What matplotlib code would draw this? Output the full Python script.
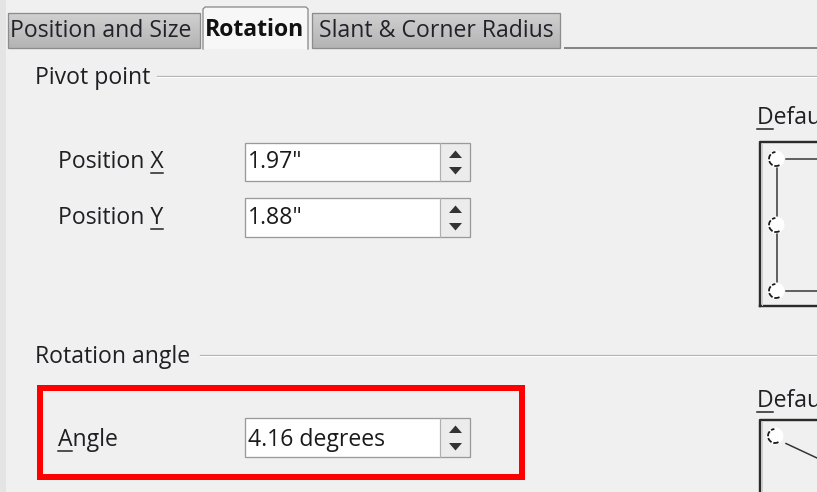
import matplotlib
matplotlib.use("Agg")
import matplotlib.pyplot as plt
from matplotlib.patches import Rectangle, Polygon, Circle, Arc
from matplotlib.colors import LinearSegmentedColormap
import numpy as np

plt.rcParams['font.family'] = ['Open Sans', 'DejaVu Sans']

# ---- content ----
tab_labels = ["Position and Size", "Rotation", "Slant & Corner Radius"]
active_tab = 1
group_titles = ["Pivot point", "Rotation angle"]
field_labels = ["Position X", "Position Y", "Angle"]
field_mnemonic = [9, 9, 0]
field_values = ['1.97"', '1.88"', '4.16 degrees']
side_title = "Default settings"

W, H = 817, 492
PX = 72 / 100.0
FS = 23 * PX

fig = plt.figure(figsize=(W / 100, H / 100), dpi=100)
fig.patch.set_facecolor('#f0f0f0')
ax = fig.add_axes([0, 0, 1, 1])
ax.set_facecolor('#f0f0f0')
ax.axis('off')
ax.set_xlim(0, W)
ax.set_ylim(H, 0)

TXT = '#1f1f24'

def lw(px):
    return px * PX

# left strip
ax.add_patch(Rectangle((0, 0), 6, H, facecolor='#e4e4e4', edgecolor='none', zorder=1))

# ---- tabs ----
tab_geo = [(8, 200, 13), (203, 308, 7), (312, 560, 13)]
tab_text_x = [101, 255, 436]
tab_cmap = LinearSegmentedColormap.from_list('t', ['#d0d0d0', '#b4b4b4'])
grad = np.linspace(0, 1, 64).reshape(-1, 1)
for i, (lab, (x0, x1, top)) in enumerate(zip(tab_labels, tab_geo)):
    if i == active_tab:
        ax.add_patch(Rectangle((x0, top), x1 - x0, 49 - top, facecolor='#f7f7f7',
                               edgecolor='none', zorder=2))
        ax.plot([x0, x0, x0 + 2, x1 - 2, x1, x1], [49, top + 2, top, top, top + 2, 49],
                color='#8a8a8a', lw=lw(1.3), zorder=3, solid_joinstyle='round')
        ax.text(tab_text_x[i], 36, lab, fontsize=FS, fontweight='bold', color='#111111',
                ha='center', va='baseline', zorder=4)
    else:
        ax.imshow(grad, cmap=tab_cmap, extent=(x0, x1, 48, top), origin='upper',
                  aspect='auto', zorder=2, interpolation='bilinear')
        ax.add_patch(Rectangle((x0, top), x1 - x0, 48 - top, facecolor='none',
                               edgecolor='#8c8c8c', lw=lw(1.3), zorder=3))
        ax.text(tab_text_x[i], 37, lab, fontsize=FS, color='#22222a',
                ha='center', va='baseline', zorder=4)
ax.plot([565, W], [47.5, 47.5], color='#858585', lw=lw(2), zorder=3)

# ---- group titles with etched lines ----
group_y = [84, 363]
group_line = [(157, 75.5), (200, 354.5)]
for t, yb, (lx, ly) in zip(group_titles, group_y, group_line):
    ax.text(35, yb, t, fontsize=FS, color=TXT, ha='left', va='baseline', zorder=4)
    ax.plot([lx, W], [ly, ly], color='#b4b4b4', lw=lw(1.2), zorder=3)
    ax.plot([lx, W], [ly + 1.2, ly + 1.2], color='#ffffff', lw=lw(1), zorder=3)

# ---- fields ----
fig.canvas.draw()
renderer = fig.canvas.get_renderer()
inv = ax.transData.inverted()

def underline(x, yb, text, idx, color=TXT):
    pre = ax.text(x, yb, text[:idx], fontsize=FS, ha='left', va='baseline')
    upto = ax.text(x, yb, text[:idx + 1], fontsize=FS, ha='left', va='baseline')
    if idx > 0:
        e0 = pre.get_window_extent(renderer)
        xs = inv.transform((e0.x1, 0))[0]
    else:
        xs = x
    e1 = upto.get_window_extent(renderer)
    xe = inv.transform((e1.x1, 0))[0]
    pre.remove(); upto.remove()
    ax.plot([xs + 0.5, xe - 0.5], [yb + 4.5, yb + 4.5], color=color, lw=lw(1.5), zorder=4)

field_label_y = [168, 224, 446]
box_geo = [(143, 181), (198, 237), (418, 457)]
for lab, mi, val, yb, (y0, y1) in zip(field_labels, field_mnemonic, field_values,
                                       field_label_y, box_geo):
    lx = 58
    ax.text(lx, yb, lab, fontsize=FS, color=TXT, ha='left', va='baseline', zorder=4)
    underline(lx, yb, lab, mi)
    bx0, bx1, sep = 245, 470, 440
    ax.add_patch(Rectangle((bx0, y0), sep - bx0, y1 - y0, facecolor='white',
                           edgecolor='none', zorder=2))
    ax.add_patch(Rectangle((sep, y0), bx1 - sep, y1 - y0, facecolor='#ececec',
                           edgecolor='none', zorder=2))
    ax.add_patch(Rectangle((bx0, y0), bx1 - bx0, y1 - y0, facecolor='none',
                           edgecolor='#9a9a9a', lw=lw(1.3), zorder=3))
    ax.plot([sep, sep], [y0, y1], color='#b0b0b0', lw=lw(1.2), zorder=3)
    cx = (sep + bx1) / 2 + 0.5
    up = y0 + 11.5
    dn = y1 - 10.5
    ax.add_patch(Polygon([[cx - 6.5, up + 3.5], [cx + 6.5, up + 3.5], [cx, up - 4]],
                         closed=True, facecolor='#333333', edgecolor='none', zorder=4))
    ax.add_patch(Polygon([[cx - 6.5, dn - 3.5], [cx + 6.5, dn - 3.5], [cx, dn + 4]],
                         closed=True, facecolor='#333333', edgecolor='none', zorder=4))
    ax.text(bx0 + 3, yb, val, fontsize=FS, color='#1a1a1a', ha='left', va='baseline',
            zorder=4)

# ---- red highlight ----
ax.add_patch(Rectangle((40, 388), 482, 89, facecolor='none', edgecolor='#ff0000',
                       lw=lw(6), zorder=5, joinstyle='miter'))

# ---- right side preview boxes (clipped at the window edge, as in the screenshot) ----
side_y = [124, 407]
for sy in side_y:
    ax.text(757, sy, side_title, fontsize=FS, color=TXT, ha='left', va='baseline',
            zorder=4, clip_on=True)
    underline(757, sy, side_title, 0)

def handle(cx, cy):
    ax.add_patch(Circle((cx, cy), 8.5, facecolor='white', edgecolor='none', zorder=5))
    ax.add_patch(Arc((cx, cy), 14, 14, theta1=60, theta2=265, color='#1a1a1a',
                     lw=lw(1.8), zorder=6, linestyle=(0, (3, 1))))

# first box
ax.plot([760, 760, W], [306, 142, 142], color='#2a2a2a', lw=lw(2.4), zorder=3)
ax.plot([760, W], [306, 306], color='#2a2a2a', lw=lw(2.4), zorder=3)
ax.plot([762.5, 762.5], [143, 305], color='#cfcfcf', lw=lw(1), zorder=3)
ax.plot([777.5, 777.5], [160, 291], color='#333333', lw=lw(1.5), zorder=3)
ax.plot([786, W], [159, 159], color='#333333', lw=lw(1.5), zorder=3)
ax.plot([786, W], [291, 291], color='#333333', lw=lw(1.5), zorder=3)
for cy in [159, 225, 291]:
    handle(776, cy)

# second box
ax.plot([760, 760, W], [H + 5, 420, 420], color='#2a2a2a', lw=lw(2.4), zorder=3)
ax.plot([762.5, 762.5], [421, H], color='#cfcfcf', lw=lw(1), zorder=3)
ax.plot([786, W], [443.5, 458], color='#333333', lw=lw(1.5), zorder=3)
handle(775, 436)

ax.set_xlim(0, W)
ax.set_ylim(H, 0)
fig.savefig('out.png', dpi=100, facecolor=fig.get_facecolor())
